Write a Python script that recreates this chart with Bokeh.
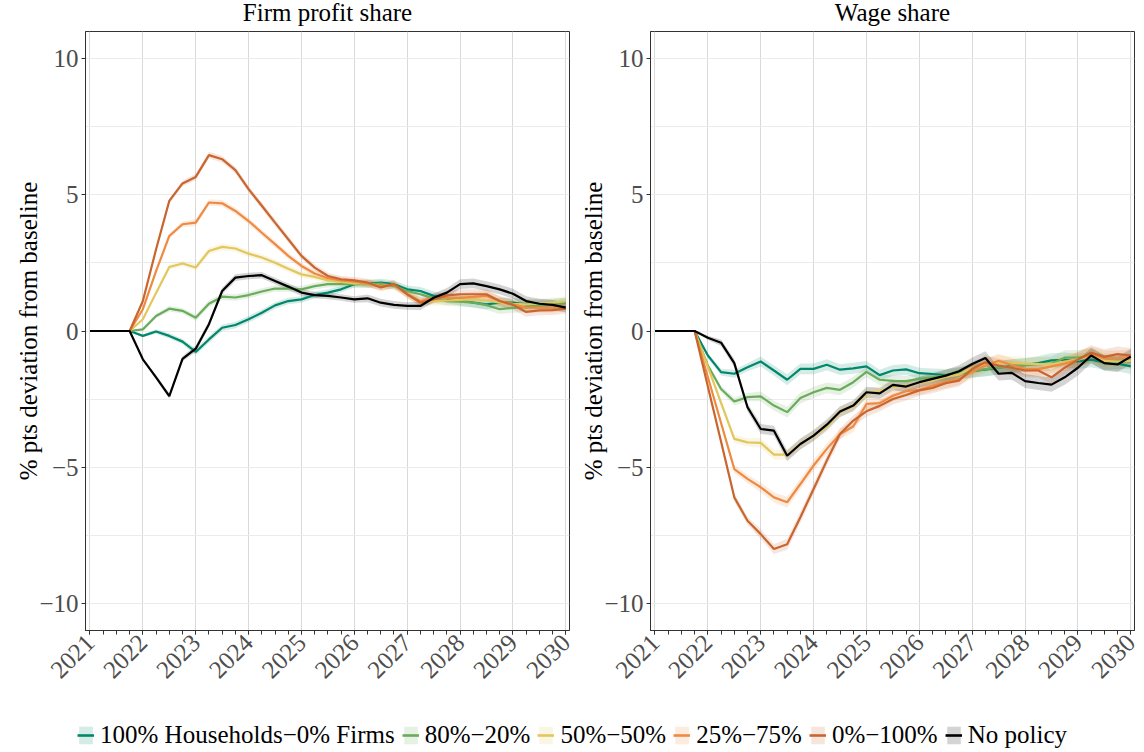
import math

from bokeh.embed import file_html
from bokeh.layouts import column, row
from bokeh.models import ColumnDataSource, FixedTicker, Label, Legend, LegendItem, Range1d
from bokeh.plotting import figure
from bokeh.resources import INLINE

# Quarterly observation dates
quarters = [
    2021.0, 2021.25, 2021.5, 2021.75, 2022.0, 2022.25, 2022.5, 2022.75,
    2023.0, 2023.25, 2023.5, 2023.75, 2024.0, 2024.25, 2024.5, 2024.75,
    2025.0, 2025.25, 2025.5, 2025.75, 2026.0, 2026.25, 2026.5, 2026.75,
    2027.0, 2027.25, 2027.5, 2027.75, 2028.0, 2028.25, 2028.5, 2028.75,
    2029.0, 2029.25, 2029.5, 2029.75, 2030.0,
]
year_ticks = [2021, 2022, 2023, 2024, 2025, 2026, 2027, 2028, 2029, 2030]
y_ticks = [-10, -5, 0, 5, 10]
y_minor_ticks = [-7.5, -2.5, 2.5, 7.5]

panel_titles = ["Firm profit share", "Wage share"]
scenario_labels = [
    "100% Households\u22120% Firms",
    "80%\u221220%",
    "50%\u221250%",
    "25%\u221275%",
    "0%\u2212100%",
    "No policy",
]
scenario_colors = ["#00876c", "#6aab5c", "#e2c75e", "#ee8a41", "#c9652f", "#000000"]

# Firm profit share, % pts deviation from baseline
profit_100_0 = [0, 0, 0, 0, -0.18, -0.02, -0.18, -0.39, -0.77, -0.31, 0.12, 0.22, 0.43, 0.67,
                0.94, 1.10, 1.16, 1.32, 1.41, 1.53, 1.72, 1.74, 1.78, 1.72, 1.53, 1.47, 1.29,
                1.19, 1.12, 1.04, 0.98, 1.04, 1.04, 0.98, 0.98, 1.00, 1.04]
profit_80_20 = [0, 0, 0, 0, 0.06, 0.55, 0.82, 0.74, 0.49, 1.00, 1.26, 1.23, 1.32, 1.45,
                1.56, 1.56, 1.53, 1.65, 1.72, 1.72, 1.72, 1.72, 1.74, 1.65, 1.47, 1.35, 1.20,
                1.10, 1.08, 1.04, 0.95, 0.80, 0.85, 0.88, 0.92, 0.95, 1.04]
profit_50_50 = [0, 0, 0, 0, 0.43, 1.40, 2.35, 2.48, 2.33, 2.94, 3.09, 3.03, 2.84, 2.70,
                2.51, 2.29, 2.08, 1.99, 1.86, 1.80, 1.75, 1.75, 1.65, 1.70, 1.35, 1.08, 1.10,
                1.12, 1.14, 1.16, 1.12, 1.04, 1.00, 0.98, 1.00, 1.04, 1.10]
profit_25_75 = [0, 0, 0, 0, 0.80, 2.20, 3.49, 3.92, 3.98, 4.72, 4.69, 4.41, 4.04, 3.61,
                3.19, 2.76, 2.39, 2.11, 1.94, 1.86, 1.81, 1.74, 1.65, 1.70, 1.35, 1.10, 1.22,
                1.22, 1.22, 1.25, 1.29, 1.10, 0.98, 0.86, 0.86, 0.86, 0.90]
profit_0_100 = [0, 0, 0, 0, 1.10, 3.00, 4.78, 5.42, 5.66, 6.46, 6.31, 5.91, 5.21, 4.60,
                3.98, 3.37, 2.76, 2.33, 2.02, 1.90, 1.86, 1.78, 1.60, 1.72, 1.35, 1.04, 1.16,
                1.31, 1.35, 1.35, 1.35, 1.10, 0.96, 0.70, 0.76, 0.77, 0.82]
profit_no_policy = [0, 0, 0, 0, -1.04, -1.70, -2.39, -1.02, -0.65, 0.25, 1.47, 1.96, 2.02, 2.05,
                    1.84, 1.63, 1.41, 1.32, 1.29, 1.23, 1.16, 1.20, 1.04, 0.96, 0.92, 0.92, 1.22,
                    1.41, 1.72, 1.75, 1.65, 1.53, 1.37, 1.10, 1.00, 0.96, 0.86]
profit_band = [0, 0, 0, 0, 0.05, 0.08, 0.10, 0.10, 0.12, 0.12, 0.12, 0.12, 0.12, 0.12,
               0.12, 0.12, 0.12, 0.12, 0.12, 0.12, 0.12, 0.14, 0.14, 0.14, 0.14, 0.15, 0.16,
               0.17, 0.18, 0.18, 0.18, 0.18, 0.18, 0.18, 0.18, 0.18, 0.18]

# Wage share, % pts deviation from baseline
wage_100_0 = [0, 0, 0, 0, -0.90, -1.51, -1.57, -1.33, -1.12, -1.45, -1.79, -1.39, -1.39, -1.24,
              -1.42, -1.37, -1.30, -1.62, -1.45, -1.41, -1.55, -1.58, -1.62, -1.55, -1.47, -1.42,
              -1.35, -1.28, -1.25, -1.18, -1.08, -1.06, -1.12, -1.05, -1.15, -1.20, -1.30]
wage_80_20 = [0, 0, 0, 0, -1.27, -2.13, -2.59, -2.43, -2.40, -2.74, -2.98, -2.46, -2.25, -2.09,
              -2.16, -1.88, -1.50, -1.79, -1.83, -1.84, -1.76, -1.70, -1.64, -1.55, -1.48, -1.40,
              -1.35, -1.30, -1.25, -1.22, -1.20, -0.98, -0.98, -0.90, -1.15, -1.12, -1.12]
wage_50_50 = [0, 0, 0, 0, -1.32, -2.64, -3.96, -4.09, -4.11, -4.54, -4.54, -4.15, -3.84, -3.51,
              -2.98, -2.77, -2.31, -2.21, -2.04, -2.00, -1.90, -1.82, -1.68, -1.60, -1.35, -1.21,
              -1.15, -1.18, -1.20, -1.22, -1.22, -1.12, -1.05, -0.90, -1.10, -1.12, -1.10]
wage_25_75 = [0, 0, 0, 0, -1.69, -3.38, -5.07, -5.43, -5.74, -6.11, -6.29, -5.62, -4.94, -4.33,
              -3.78, -3.51, -2.68, -2.65, -2.38, -2.21, -2.16, -2.00, -1.88, -1.76, -1.50, -1.27,
              -1.09, -1.25, -1.39, -1.40, -1.30, -1.20, -1.05, -0.85, -1.00, -1.00, -0.95]
wage_0_100 = [0, 0, 0, 0, -2.04, -4.07, -6.11, -6.97, -7.46, -8.01, -7.83, -6.84, -5.80, -4.76,
              -3.78, -3.29, -2.95, -2.75, -2.50, -2.35, -2.18, -2.09, -1.92, -1.82, -1.39, -1.15,
              -1.27, -1.35, -1.45, -1.45, -1.70, -1.35, -1.05, -0.80, -0.95, -0.85, -0.90]
wage_no_policy = [0, 0, 0, 0, -0.25, -0.43, -1.18, -2.80, -3.60, -3.66, -4.58, -4.15, -3.84, -3.44,
                  -2.96, -2.74, -2.25, -2.29, -1.98, -2.04, -1.88, -1.76, -1.64, -1.48, -1.21, -0.99,
                  -1.57, -1.54, -1.84, -1.91, -1.97, -1.70, -1.35, -0.90, -1.18, -1.23, -0.94]
wage_band = [0, 0, 0, 0, 0.08, 0.12, 0.15, 0.15, 0.18, 0.18, 0.20, 0.20, 0.20, 0.20,
             0.20, 0.20, 0.20, 0.20, 0.20, 0.20, 0.20, 0.20, 0.22, 0.22, 0.24, 0.25, 0.25,
             0.25, 0.25, 0.26, 0.26, 0.27, 0.28, 0.28, 0.28, 0.28, 0.28]

profit_series = [profit_100_0, profit_80_20, profit_50_50, profit_25_75, profit_0_100, profit_no_policy]
wage_series = [wage_100_0, wage_80_20, wage_50_50, wage_25_75, wage_0_100, wage_no_policy]

SERIF = "Liberation Serif"
BAND_ALPHA = 0.17
FRAME_W = 484
FRAME_H = 599
TOTAL_W = 1144
HEAD_H = 30
LEFT_BORDERS = [85, 75]
RIGHT_BORDERS = [6, 10]


def make_panel(series, band, border_left, border_right):
    p = figure(
        width=border_left + FRAME_W + border_right, height=1 + FRAME_H + 70,
        x_range=Range1d(2020.915, 2030.07), y_range=Range1d(-11, 11),
        toolbar_location=None, output_backend="svg",
        min_border_left=border_left, min_border_right=border_right,
        min_border_top=1, min_border_bottom=70,
        background_fill_color="white", border_fill_color="white",
    )
    p.outline_line_color = "#333333"
    p.outline_line_width = 1

    # ribbons first, then lines on top
    sources = []
    for vals in series:
        sources.append(ColumnDataSource(dict(
            x=quarters, y=vals,
            lo=[v - b for v, b in zip(vals, band)],
            hi=[v + b for v, b in zip(vals, band)],
        )))
    for src, color in zip(sources, scenario_colors):
        p.varea(x="x", y1="lo", y2="hi", source=src, fill_color=color, fill_alpha=BAND_ALPHA)
    for src, color in zip(sources, scenario_colors):
        p.line(x="x", y="y", source=src, line_color=color, line_width=2.2)

    xa = p.xaxis[0]
    xa.ticker = FixedTicker(ticks=year_ticks, minor_ticks=quarters)
    xa.major_label_orientation = math.pi / 4
    xa.major_label_text_font = SERIF
    xa.major_label_text_font_size = "25px"
    xa.major_label_text_color = "#4d4d4d"
    xa.major_label_standoff = 4
    xa.axis_line_color = "#333333"
    xa.major_tick_line_color = "#333333"
    xa.minor_tick_line_color = "#333333"
    xa.major_tick_in = 0
    xa.major_tick_out = 4
    xa.minor_tick_in = 0
    xa.minor_tick_out = 4

    ya = p.yaxis[0]
    ya.ticker = FixedTicker(ticks=y_ticks, minor_ticks=y_minor_ticks)
    ya.major_label_overrides = {-10: "\u221210", -5: "\u22125", 0: "0", 5: "5", 10: "10"}
    ya.major_label_text_font = SERIF
    ya.major_label_text_font_size = "25px"
    ya.major_label_text_color = "#4d4d4d"
    ya.major_label_standoff = 3
    ya.axis_line_color = "#333333"
    ya.major_tick_line_color = "#333333"
    ya.minor_tick_line_color = None
    ya.major_tick_in = 0
    ya.major_tick_out = 4
    ya.axis_label = "% pts deviation from baseline"
    ya.axis_label_text_font = SERIF
    ya.axis_label_text_font_size = "25px"
    ya.axis_label_text_font_style = "normal"
    ya.axis_label_text_color = "black"
    ya.axis_label_standoff = -6

    p.xgrid.grid_line_color = "#d9d9d9"
    p.xgrid.grid_line_width = 1
    p.ygrid.grid_line_color = "#ebebeb"
    p.ygrid.minor_grid_line_color = "#ebebeb"
    return p


p_profit = make_panel(profit_series, profit_band, LEFT_BORDERS[0], RIGHT_BORDERS[0])
p_wage = make_panel(wage_series, wage_band, LEFT_BORDERS[1], RIGHT_BORDERS[1])

# Heading strip: one centred title over each panel frame
p_head = figure(
    width=TOTAL_W, height=HEAD_H, x_range=Range1d(0, TOTAL_W), y_range=Range1d(0, HEAD_H),
    toolbar_location=None, output_backend="svg",
    x_axis_type=None, y_axis_type=None, min_border=0,
    outline_line_color=None, background_fill_color="white", border_fill_color="white",
)
p_head.grid.visible = False
panel_left = 0
for title, bl, br in zip(panel_titles, LEFT_BORDERS, RIGHT_BORDERS):
    p_head.add_layout(Label(
        x=panel_left + bl + FRAME_W / 2, y=HEAD_H / 2 + 3.5, text=title,
        text_align="center", text_baseline="middle",
        text_font=SERIF, text_font_size="25px", text_color="black",
    ))
    panel_left += bl + FRAME_W + br

# Shared legend strip below both panels; its key renderers sit outside the visible range
p_leg = figure(
    width=TOTAL_W, height=52, x_range=Range1d(0, 1), y_range=Range1d(0, 1),
    toolbar_location=None, output_backend="svg",
    x_axis_type=None, y_axis_type=None, min_border=0,
    outline_line_color=None, background_fill_color="white", border_fill_color="white",
)
p_leg.grid.visible = False
items = []
for label, color in zip(scenario_labels, scenario_colors):
    key_src = ColumnDataSource(dict(x=[-5, -4], y=[-5, -5], lo=[-6, -6], hi=[-4, -4]))
    band_r = p_leg.varea(x="x", y1="lo", y2="hi", source=key_src, fill_color=color, fill_alpha=BAND_ALPHA)
    line_r = p_leg.line(x="x", y="y", source=key_src, line_color=color, line_width=2.6)
    items.append(LegendItem(label=label, renderers=[band_r, line_r]))
legend = Legend(
    items=items, orientation="horizontal", location="bottom_center",
    label_text_font=SERIF, label_text_font_size="25px", label_text_color="black",
    glyph_width=17, glyph_height=22, label_standoff=6, spacing=7,
    padding=0, margin=3, border_line_color=None, background_fill_alpha=0,
)
p_leg.add_layout(legend, "center")

layout = column(p_head, row(p_profit, p_wage), p_leg)

with open("out.html", "w") as f:
    f.write(file_html(layout, INLINE))
